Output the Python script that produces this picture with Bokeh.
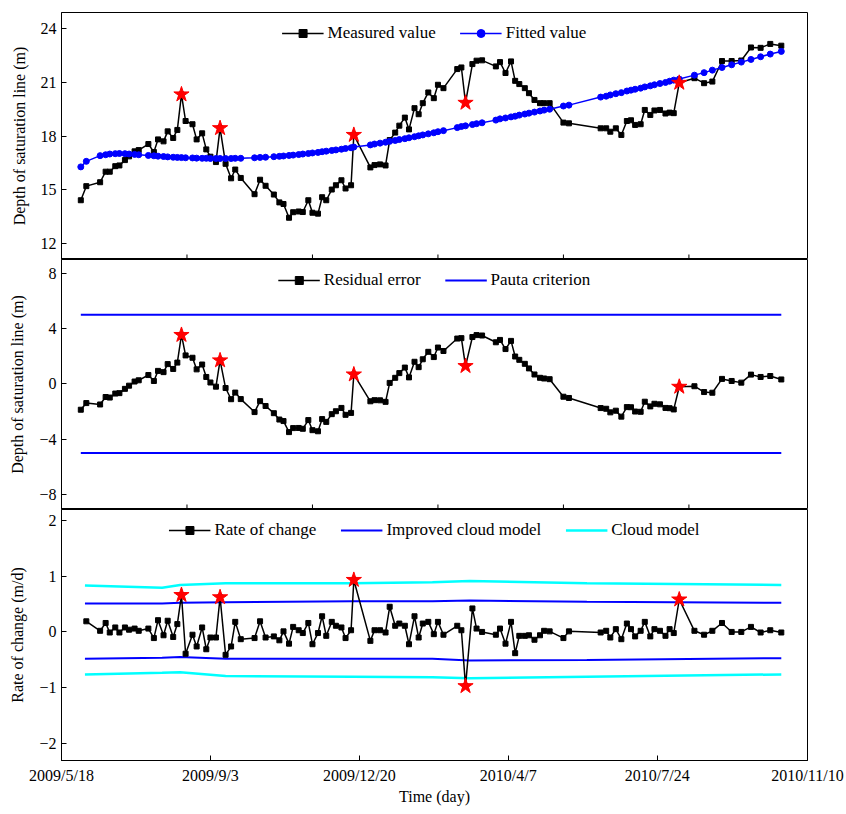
import math
import pandas as pd
from bokeh.plotting import figure
from bokeh.layouts import column
from bokeh.models import Range1d, FixedTicker, Legend, LegendItem
from bokeh.embed import file_html
from bokeh.resources import INLINE

FONT = "Liberation Serif"

# ---------------- data ----------------
start_date = "2009-05-18"
tick_dates = ["2009-05-18", "2009-09-03", "2009-12-20", "2010-04-07", "2010-07-24", "2010-11-10"]
tick_labels = ["2009/5/18", "2009/9/3", "2009/12/20", "2010/4/7", "2010/7/24", "2010/11/10"]
upper_panel_ticks = [91, 182, 273, 364, 455]   # days, unlabeled ticks of the two upper panels

# observation time (days since 2009-05-18)
days = [14, 18, 28, 32, 35, 39, 42, 46, 49, 53, 56, 63, 67, 70, 74, 77, 81, 84, 87, 90,
        95, 98, 102, 105, 108, 112, 115, 119, 123, 126, 130, 140, 144, 148, 154, 158, 161, 165, 168, 172,
        175, 179, 182, 186, 189, 192, 196, 199, 203, 206, 210, 212, 224, 227, 231, 235, 238, 242, 245, 249,
        252, 256, 259, 262, 266, 270, 273, 277, 287, 290, 293, 298, 301, 305, 315, 318, 322, 326, 329, 332,
        336, 339, 343, 347, 350, 354, 364, 368, 391, 395, 398, 402, 406, 410, 413, 416, 420, 423, 427, 430,
        434, 438, 441, 444, 448, 459, 466, 472, 479, 486, 493, 500, 507, 514, 522]

measured = [14.40, 15.19, 15.41, 16.00, 16.00, 16.31, 16.35, 16.65, 16.86, 17.14, 17.21, 17.55, 17.10, 17.81, 17.70, 18.26, 17.89, 18.34, 20.33, 18.84,
            18.66, 17.81, 18.15, 17.25, 16.84, 16.54, 18.44, 16.44, 15.63, 16.12, 15.65, 14.74, 15.55, 15.21, 14.72, 14.28, 14.19, 13.42, 13.73, 13.77,
            13.74, 14.40, 13.70, 13.65, 14.57, 14.40, 15.00, 15.24, 15.52, 15.06, 15.24, 18.06, 16.24, 16.37, 16.41, 16.35, 17.77, 18.19, 18.58, 19.03,
            18.37, 19.56, 19.22, 19.84, 20.44, 20.12, 20.87, 20.68, 21.75, 21.84, 19.86, 22.03, 22.22, 22.24, 21.90, 22.14, 21.53, 22.18, 21.09, 20.91,
            20.68, 20.40, 20.02, 19.84, 19.84, 19.84, 18.75, 18.71, 18.43, 18.43, 18.24, 18.43, 18.06, 18.84, 18.88, 18.62, 18.66, 19.46, 19.18, 19.43,
            19.46, 19.26, 19.31, 19.28, 20.98, 21.24, 20.96, 21.05, 22.20, 22.20, 22.23, 22.96, 22.94, 23.16, 23.06]

fitted = [16.27, 16.58, 16.90, 16.95, 16.99, 17.01, 17.02, 17.01, 16.99, 16.97, 16.95, 16.91, 16.89, 16.87, 16.85, 16.83, 16.81, 16.80, 16.79, 16.78,
          16.77, 16.76, 16.75, 16.75, 16.74, 16.74, 16.74, 16.74, 16.74, 16.75, 16.75, 16.78, 16.80, 16.81, 16.84, 16.86, 16.88, 16.91, 16.93, 16.96,
          16.99, 17.02, 17.05, 17.08, 17.12, 17.15, 17.19, 17.22, 17.26, 17.30, 17.34, 17.38, 17.50, 17.55, 17.60, 17.65, 17.70, 17.75, 17.80, 17.85,
          17.90, 17.96, 18.01, 18.06, 18.12, 18.18, 18.24, 18.30, 18.47, 18.53, 18.57, 18.64, 18.69, 18.74, 18.89, 18.96, 19.01, 19.07, 19.11, 19.17,
          19.23, 19.28, 19.34, 19.40, 19.45, 19.50, 19.68, 19.73, 20.18, 20.23, 20.30, 20.37, 20.43, 20.52, 20.57, 20.62, 20.68, 20.75, 20.81, 20.87,
          20.94, 21.00, 21.07, 21.13, 21.19, 21.41, 21.55, 21.69, 21.84, 21.99, 22.14, 22.29, 22.44, 22.59, 22.74]

# rate of change (m/d), starting at the second observation
rate = [0.19, 0.02, 0.16, -0.01, 0.08, -0.01, 0.08, 0.04, 0.06, 0.02, 0.06, -0.11, 0.21, -0.06, 0.20, -0.09, 0.14, 0.66, -0.39,
        -0.05, -0.26, 0.08, -0.31, -0.10, -0.10, 0.62, -0.41, -0.26, 0.18, -0.13, -0.11, 0.19, -0.10, -0.08, -0.15, 0.01, -0.21, 0.09, 0.03,
        -0.02, 0.16, -0.22, -0.02, 0.28, -0.07, 0.18, 0.11, 0.08, -0.11, 0.03, 0.93, -0.16, 0.03, 0.03, -0.01, 0.45, 0.11, 0.15, 0.11,
        -0.22, 0.28, -0.10, 0.15, 0.18, -0.04, 0.18, -0.05, 0.11, 0.03, -0.97, 0.42, 0.06, 0.00, -0.05, 0.06, -0.21, 0.18, -0.38, -0.07,
        -0.07, -0.06, -0.14, -0.06, 0.02, 0.01, -0.11, 0.01, -0.01, 0.02, -0.10, 0.05, -0.13, 0.15, 0.05, -0.08, 0.02, 0.18, -0.08, 0.05,
        0.02, -0.07, 0.05, -0.02, 0.58, 0.02, -0.05, 0.02, 0.16, 0.00, 0.00, 0.09, -0.01, 0.03, -0.01]

outlier_idx = [18, 26, 51, 70, 104]
pauta_limit = 5.0

band_days = [17, 73, 86, 119, 211, 269, 296, 381, 522]
cloud_upper = [0.83, 0.79, 0.84, 0.87, 0.87, 0.89, 0.91, 0.87, 0.84]
improved_upper = [0.51, 0.51, 0.52, 0.53, 0.55, 0.55, 0.56, 0.54, 0.52]
improved_lower = [-0.48, -0.46, -0.45, -0.48, -0.48, -0.48, -0.51, -0.50, -0.47]
cloud_lower = [-0.76, -0.73, -0.72, -0.79, -0.80, -0.81, -0.83, -0.80, -0.76]

# ---------------- derived ----------------
t0 = pd.Timestamp(start_date)
tick_days = [int((pd.Timestamp(d) - t0).days) for d in tick_dates]
residual = [round(m - f, 2) for m, f in zip(measured, fitted)]
rate_days = days[1:]
out_days = [days[i] for i in outlier_idx]
out_meas = [measured[i] for i in outlier_idx]
out_res = [residual[i] for i in outlier_idx]
out_rate = [rate[i - 1] for i in outlier_idx]

BLUE = "#0000ff"
CYAN = "#00ffff"
RED = "#ff0000"

W = 846
LEFT = 61
RIGHT = 39


def style_axis(ax):
    ax.major_tick_in = 5
    ax.major_tick_out = 0
    ax.minor_tick_line_color = None
    ax.axis_line_color = "black"
    ax.major_tick_line_color = "black"
    ax.major_label_text_font = FONT
    ax.major_label_text_font_size = "16px"
    ax.major_label_text_color = "black"
    ax.axis_label_text_font = FONT
    ax.axis_label_text_font_size = "16px"
    ax.axis_label_text_font_style = "normal"
    ax.axis_label_text_color = "black"


def make_fig(height, yr, yticks, ylabel, top, bottom, with_x_axis):
    p = figure(width=W, height=height, x_range=Range1d(0, tick_days[-1]), y_range=Range1d(*yr),
               output_backend="svg", toolbar_location=None,
               x_axis_location="below" if with_x_axis else None,
               min_border_left=LEFT, min_border_right=RIGHT, min_border_top=top, min_border_bottom=bottom)
    p.grid.visible = False
    p.outline_line_color = "black"
    p.outline_line_alpha = 1
    p.outline_line_width = 1
    p.background_fill_color = "white"
    p.border_fill_color = "white"
    p.yaxis.ticker = FixedTicker(ticks=yticks)
    p.yaxis.axis_label = ylabel
    style_axis(p.yaxis[0])
    p.yaxis.major_label_standoff = 5
    p.yaxis.axis_label_standoff = 10
    if with_x_axis:
        style_axis(p.xaxis[0])
        p.xaxis.ticker = FixedTicker(ticks=tick_days)
        p.xaxis.major_label_overrides = {d: l for d, l in zip(tick_days, tick_labels)}
        p.xaxis.axis_label = "Time (day)"
        p.xaxis.major_label_standoff = 6
        p.xaxis.axis_label_standoff = 1
    else:
        # unlabeled inward ticks on the bottom edge (half of each dash is clipped by the frame)
        p.scatter(upper_panel_ticks, [yr[0]] * len(upper_panel_ticks), marker="dash",
                  angle=math.pi / 2, size=10, line_color="black", line_width=1)
    return p


def make_legend(items):
    return Legend(items=items, orientation="horizontal", location="top_center",
                  label_text_font=FONT, label_text_font_size="17px", label_text_color="black",
                  border_line_color=None, background_fill_alpha=0, glyph_width=42,
                  spacing=24, margin=11, padding=6, label_standoff=4)


# ---- panel 1 ----
p1 = make_fig(259, (11.08, 24.92), [12, 15, 18, 21, 24], "Depth of saturation line (m)", 12, 0, False)
r1l = p1.line(days, measured, line_color="black", line_width=1.5)
r1s = p1.scatter(days, measured, marker="square", size=5, color="black")
r2l = p1.line(days, fitted, line_color=BLUE, line_width=1.5)
r2s = p1.scatter(days, fitted, marker="circle", size=6, color=BLUE)
p1.scatter(out_days, out_meas, marker="star", size=16, color=RED)
p1.add_layout(make_legend([LegendItem(label="Measured value", renderers=[r1l, r1s]),
                           LegendItem(label="Fitted value", renderers=[r2l, r2s])]))

# ---- panel 2 ----
p2 = make_fig(250, (-9.09, 9.0), [-8, -4, 0, 4, 8], "Depth of saturation line (m)", 0, 0, False)
span = [days[0], days[-1]]
rp1 = p2.line(span, [pauta_limit, pauta_limit], line_color=BLUE, line_width=2)
p2.line(span, [-pauta_limit, -pauta_limit], line_color=BLUE, line_width=2)
rrl = p2.line(days, residual, line_color="black", line_width=1.5)
rrs = p2.scatter(days, residual, marker="square", size=5, color="black")
p2.scatter(out_days, out_res, marker="star", size=16, color=RED)
p2.add_layout(make_legend([LegendItem(label="Residual error", renderers=[rrl, rrs]),
                           LegendItem(label="Pauta criterion", renderers=[rp1])]))

# ---- panel 3 ----
p3 = make_fig(298, (-2.30, 2.19), [-2, -1, 0, 1, 2], "Rate of change (m/d)", 0, 44, True)
rc1 = p3.line(band_days, cloud_upper, line_color=CYAN, line_width=2.5)
p3.line(band_days, cloud_lower, line_color=CYAN, line_width=2.5)
ri1 = p3.line(band_days, improved_upper, line_color=BLUE, line_width=2)
p3.line(band_days, improved_lower, line_color=BLUE, line_width=2)
rl = p3.line(rate_days, rate, line_color="black", line_width=1.5)
rs = p3.scatter(rate_days, rate, marker="square", size=5, color="black")
p3.scatter(out_days, out_rate, marker="star", size=16, color=RED)
p3.add_layout(make_legend([LegendItem(label="Rate of change", renderers=[rl, rs]),
                           LegendItem(label="Improved cloud model", renderers=[ri1]),
                           LegendItem(label="Cloud model", renderers=[rc1])]))

layout = column(p1, p2, p3, spacing=0)
open("out.html", "w").write(file_html(layout, INLINE))
